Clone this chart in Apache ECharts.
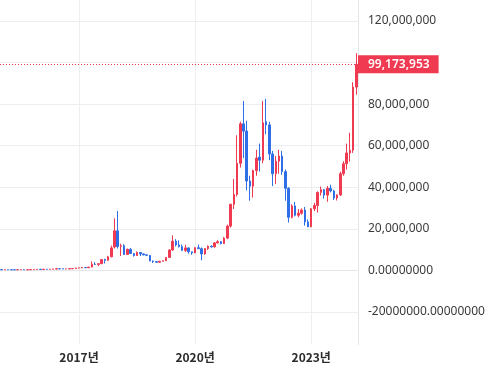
<!DOCTYPE html>
<html>
<head>
<meta charset="utf-8">
<script src="https://cdn.jsdelivr.net/npm/echarts@6/dist/echarts.min.js"></script>
<style>
  html, body { margin: 0; padding: 0; background: #fff; }
  #main { width: 500px; height: 383px; }
</style>
</head>
<body>
<div id="main"></div>
<script>
// 월봉 (단위: 백만 원) - [시가, 종가, 저가, 고가]
const ohlc2015 = [
  [0.35, 0.25, 0.19, 0.36], [0.25, 0.28, 0.22, 0.29], [0.28, 0.27, 0.26, 0.33], [0.27, 0.26, 0.24, 0.28],
  [0.26, 0.255, 0.25, 0.27], [0.255, 0.29, 0.25, 0.30], [0.29, 0.33, 0.28, 0.36], [0.33, 0.27, 0.25, 0.33],
  [0.27, 0.275, 0.26, 0.28], [0.275, 0.36, 0.27, 0.37], [0.36, 0.44, 0.36, 0.55], [0.44, 0.50, 0.42, 0.53]
];
const ohlc2016 = [
  [0.50, 0.44, 0.42, 0.53], [0.44, 0.51, 0.43, 0.52], [0.51, 0.48, 0.47, 0.53], [0.48, 0.53, 0.48, 0.54],
  [0.53, 0.62, 0.51, 0.65], [0.62, 0.76, 0.62, 0.91], [0.76, 0.72, 0.70, 0.81], [0.72, 0.65, 0.63, 0.72],
  [0.65, 0.68, 0.65, 0.69], [0.68, 0.80, 0.67, 0.80], [0.80, 0.83, 0.80, 0.85], [0.83, 1.14, 0.83, 1.15]
];
const ohlc2017 = [
  [1.14, 1.15, 0.90, 1.30], [1.15, 1.38, 1.10, 1.40], [1.38, 1.26, 1.05, 1.50], [1.26, 1.56, 1.25, 1.60],
  [1.56, 2.9, 1.5, 4.3], [2.9, 2.85, 2.6, 3.9], [2.85, 3.2, 2.0, 3.3], [3.2, 5.2, 3.0, 5.4],
  [5.2, 4.8, 3.3, 5.6], [4.8, 6.5, 4.7, 7.0], [6.5, 10.8, 6.3, 11.9], [11.2, 19.0, 10.5, 25.0]
];
const ohlc2018 = [
  [19.0, 11.5, 10.5, 28.5], [11.5, 11.8, 6.9, 12.8], [11.8, 7.6, 7.5, 12.6], [7.6, 10.1, 7.4, 10.5],
  [10.1, 8.1, 7.8, 10.8], [8.1, 7.1, 6.6, 8.3], [7.1, 8.6, 6.9, 9.1], [8.6, 7.9, 6.9, 8.6],
  [7.9, 7.45, 7.2, 8.2], [7.45, 7.2, 7.1, 7.6], [7.2, 4.5, 4.3, 7.3], [4.5, 4.2, 3.5, 4.7]
];
const ohlc2019 = [
  [4.2, 3.9, 3.8, 4.3], [3.9, 4.35, 3.8, 4.5], [4.35, 4.6, 4.3, 4.6], [4.6, 6.2, 4.6, 6.3],
  [6.2, 9.8, 6.1, 10.0], [9.8, 14.0, 9.4, 16.8], [14.0, 12.2, 11.5, 15.0], [12.2, 11.4, 11.0, 14.4],
  [11.4, 9.6, 9.4, 12.4], [9.6, 10.8, 8.8, 12.3], [10.8, 8.9, 8.0, 11.0], [8.9, 8.4, 7.5, 9.0]
];
const ohlc2020 = [
  [8.4, 10.9, 8.2, 11.1], [10.9, 10.4, 10.2, 12.4], [10.4, 7.9, 4.8, 11.0], [7.9, 10.5, 7.5, 10.7],
  [10.5, 11.6, 9.8, 12.0], [11.6, 11.3, 10.9, 12.0], [11.3, 13.2, 10.9, 13.6], [13.2, 13.8, 12.9, 14.5],
  [13.8, 12.9, 12.4, 14.1], [12.9, 15.5, 12.8, 16.0], [15.5, 21.3, 15.0, 22.0], [21.3, 31.8, 20.5, 32.0]
];
const ohlc2021 = [
  [31.8, 36.5, 29.5, 44.0], [36.5, 51.5, 35.5, 65.0], [51.5, 70.5, 49.5, 71.5], [70.5, 67.0, 54.0, 81.5],
  [67.0, 43.0, 38.5, 72.0], [43.0, 40.5, 33.5, 45.5], [40.5, 48.0, 35.0, 48.5], [48.0, 54.0, 45.5, 58.0],
  [54.5, 53.0, 47.5, 61.0], [53.0, 71.0, 51.5, 81.5], [71.5, 70.0, 65.5, 82.5], [70.0, 56.0, 53.0, 71.5]
];
const ohlc2022 = [
  [56.0, 46.5, 40.5, 57.5], [46.5, 52.5, 41.5, 55.0], [52.5, 55.0, 46.5, 58.0], [55.0, 47.5, 46.0, 57.5],
  [47.5, 39.5, 33.5, 48.5], [39.5, 25.5, 23.0, 40.0], [25.5, 31.0, 25.0, 31.8], [31.0, 26.5, 26.0, 32.9],
  [26.5, 27.5, 25.5, 29.5], [27.5, 29.0, 26.8, 29.8], [29.0, 23.3, 21.5, 30.5], [23.3, 21.0, 20.8, 24.5]
];
const ohlc2023 = [
  [21.0, 29.6, 20.7, 30.0], [29.6, 31.2, 28.5, 32.5], [31.2, 37.5, 27.8, 38.0], [37.5, 38.8, 36.0, 40.3],
  [38.8, 36.2, 34.5, 39.0], [36.2, 39.5, 33.0, 40.6], [39.5, 38.2, 37.5, 41.2], [38.2, 34.8, 33.8, 38.8],
  [34.8, 36.3, 33.6, 36.5], [36.3, 46.5, 35.8, 47.5], [46.5, 51.3, 45.5, 52.5], [51.3, 56.5, 48.5, 61.0]
];
const ohlc2024 = [
  [56.5, 57.8, 52.3, 66.2], [57.8, 88.2, 56.5, 90.5], [88.2, 99.173953, 84.5, 104.5]
];

const lastPrice = 99173953;
const startYear = 2015;

// 눈금
const yGridValues = [-20e6, 0, 20e6, 40e6, 60e6, 80e6, 100e6, 120e6];
const yLabelValues = [-20e6, 0, 20e6, 40e6, 60e6, 80e6, 120e6];
const xLabelMonths = ['2017-01', '2020-01', '2023-01'];

const allYears = [ohlc2015, ohlc2016, ohlc2017, ohlc2018, ohlc2019, ohlc2020, ohlc2021, ohlc2022, ohlc2023, ohlc2024];
const months = [];
const candles = [];
allYears.forEach((rows, yi) => {
  rows.forEach((r, mi) => {
    months.push((startYear + yi) + '-' + String(mi + 1).padStart(2, '0'));
    candles.push(r.map(v => v * 1e6));
  });
});

const RED = '#f03a52';
const BLUE = '#2e6ee6';
const GRID = '#eceef2';

const isYearMark = (idx, val) => xLabelMonths.includes(val);

const chart = echarts.init(document.getElementById('main'));
chart.setOption({
  animation: false,
  backgroundColor: '#fff',
  grid: { left: -1.6, right: 142, top: 0, bottom: 38.5, containLabel: false },
  xAxis: {
    type: 'category',
    data: months,
    boundaryGap: true,
    axisLine: { show: true, lineStyle: { color: '#e4e6ea' } },
    axisTick: { show: false },
    axisLabel: {
      interval: isYearMark,
      formatter: v => v.slice(0, 4) + '년',
      margin: 7,
      fontFamily: 'Noto Sans CJK KR',
      fontSize: 12,
      fontWeight: 'bold',
      color: '#2b2b2b'
    },
    splitLine: { show: true, interval: isYearMark, alignWithLabel: true, lineStyle: { color: GRID } }
  },
  yAxis: {
    type: 'value',
    position: 'right',
    min: -35.7e6,
    max: 130.1e6,
    axisLine: { show: true, lineStyle: { color: '#e4e6ea' } },
    axisTick: { show: false, customValues: yGridValues },
    axisLabel: {
      customValues: yLabelValues,
      margin: 10,
      fontFamily: 'Noto Sans',
      fontSize: 12,
      color: '#3a3a3a',
      formatter: v => {
        if (v === 0) return '0.00000000';
        if (v < 0) return v + '.00000000';
        return v.toLocaleString('en-US');
      }
    },
    splitLine: { show: true, lineStyle: { color: GRID } }
  },
  series: [{
    type: 'candlestick',
    data: candles,
    barWidth: 2,
    itemStyle: {
      color: RED,
      color0: BLUE,
      borderColor: RED,
      borderColor0: BLUE,
      borderWidth: 1
    },
    markLine: {
      silent: true,
      symbol: 'none',
      lineStyle: { color: RED, type: [1, 2], width: 1 },
      label: {
        position: 'end',
        distance: 0,
        formatter: () => lastPrice.toLocaleString('en-US'),
        backgroundColor: RED,
        color: '#fff',
        fontFamily: 'Noto Sans',
        fontSize: 12,
        fontWeight: 600,
        lineHeight: 13,
        padding: [3, 9, 2, 10]
      },
      data: [{ yAxis: lastPrice }]
    }
  }]
});
</script>
</body>
</html>
